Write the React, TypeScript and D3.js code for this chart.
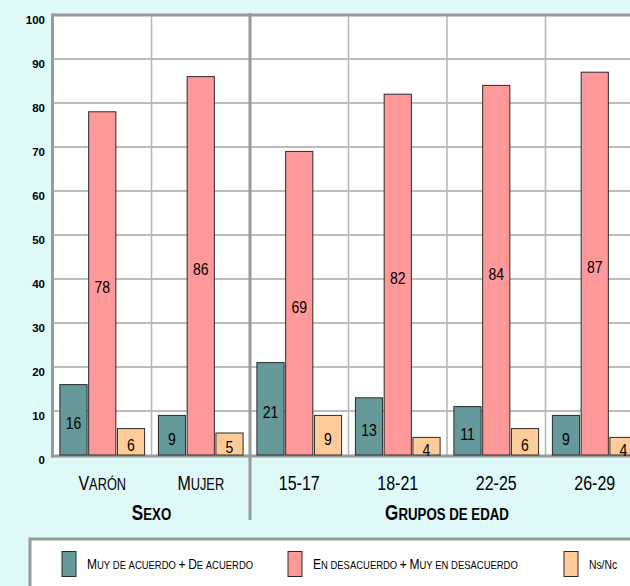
import React from "react";
import * as d3 from "d3";

const categories = ["Varón", "Mujer", "15-17", "18-21", "22-25", "26-29"];
const groups = [
  { name: "Sexo", count: 2 },
  { name: "Grupos de edad", count: 4 },
];
const seriesNames = [
  "Muy de acuerdo + De acuerdo",
  "En desacuerdo + Muy en desacuerdo",
  "Ns/Nc",
];
const acuerdo = [16, 9, 21, 13, 11, 9];
const desacuerdo = [78, 86, 69, 82, 84, 87];
const nsnc = [6, 5, 9, 4, 6, 4];
const yTicks = [0, 10, 20, 30, 40, 50, 60, 70, 80, 90, 100];

const colors = ["#669999", "#ff9999", "#ffcc99"];
const W = 630;
const H = 586;
const BG = "#dff8f8";
const GRID = "#a6a6a6";
const FRAME = "#999999";
const FONT = "'Liberation Sans', Arial, sans-serif";

// small-caps helper: first letter of capitalised words big, rest small uppercase
function SmallCaps({ text, big, small, weight }: { text: string; big: number; small: number; weight?: string }) {
  const words = text.split(" ");
  const parts: React.ReactNode[] = [];
  words.forEach((w, wi) => {
    const isUpperStart = /[A-ZÁÉÍÓÚÑ]/.test(w[0]);
    if (wi > 0) parts.push(<tspan key={"s" + wi} fontSize={small}>{" "}</tspan>);
    if (w === "+") {
      parts.push(<tspan key={"p" + wi} fontSize={big} fontWeight="normal">+</tspan>);
    } else if (isUpperStart) {
      parts.push(<tspan key={"b" + wi} fontSize={big} fontWeight={weight}>{w[0]}</tspan>);
      parts.push(<tspan key={"r" + wi} fontSize={small} fontWeight={weight}>{w.slice(1).toUpperCase()}</tspan>);
    } else {
      parts.push(<tspan key={"r" + wi} fontSize={small} fontWeight={weight}>{w.toUpperCase()}</tspan>);
    }
  });
  return <>{parts}</>;
}

export default function App() {
  const plotLeft = 53;
  const plotTop = 15;
  const plotBottom = 455;
  const catStep = 98.5;
  const plotRight = plotLeft + catStep * categories.length;

  const x = d3.scaleBand<string>().domain(categories).range([plotLeft, plotRight]).padding(0);
  const inner = d3
    .scaleBand<number>()
    .domain([0, 1, 2])
    .range([0, x.bandwidth()])
    .paddingInner(0.055)
    .paddingOuter(0.24);
  const y = d3.scaleLinear().domain([0, 100]).range([plotBottom, plotTop]);

  const series = [acuerdo, desacuerdo, nsnc];

  let acc = 0;
  const groupSpans = groups.map((g) => {
    const start = acc;
    acc += g.count;
    return { ...g, x0: x(categories[start])!, x1: x(categories[acc - 1])! + x.bandwidth() };
  });

  const isNumeric = (s: string) => /^[0-9-]+$/.test(s);

  const legendX = [62, 288, 564];

  return (
    <svg width={W} height={H} style={{ position: "absolute", left: 0, top: 0 }} fontFamily={FONT}>
      <rect x={0} y={0} width={W} height={H} fill={BG} />
      <rect x={plotLeft} y={plotTop} width={plotRight - plotLeft} height={plotBottom - plotTop} fill="#ffffff" />
      {yTicks.slice(1, -1).map((t) => (
        <line key={t} x1={plotLeft} x2={plotRight} y1={y(t)} y2={y(t)} stroke={GRID} strokeWidth={1.6} />
      ))}
      {categories.slice(1).map((c) => (
        <line key={c} x1={x(c)!} x2={x(c)!} y1={plotTop} y2={plotBottom} stroke="#b8b8b8" strokeWidth={1.6} />
      ))}
      <line x1={plotLeft - 1} x2={plotRight} y1={plotTop} y2={plotTop} stroke={FRAME} strokeWidth={3} />
      <line x1={plotLeft - 0.5} x2={plotLeft - 0.5} y1={plotTop - 1.5} y2={plotBottom + 2.5} stroke={FRAME} strokeWidth={3} />
      <line x1={plotLeft - 2} x2={plotRight} y1={plotBottom + 1} y2={plotBottom + 1} stroke={FRAME} strokeWidth={3} />
      {groupSpans.slice(1).map((g) => (
        <line key={g.name} x1={g.x0} x2={g.x0} y1={plotTop - 2} y2={520} stroke={FRAME} strokeWidth={3} />
      ))}
      {yTicks.map((t) => (
        <text key={t} x={45} y={y(t) + 9} textAnchor="end" fontSize={11.5} fontWeight="bold" fill="#000">
          {t}
        </text>
      ))}
      {categories.map((c, ci) =>
        series.map((s, si) => {
          const bx = x(c)! + inner(si)!;
          const by = y(s[ci]);
          const cx = bx + inner.bandwidth() / 2;
          return (
            <g key={c + si}>
              <rect
                x={bx}
                y={by}
                width={inner.bandwidth()}
                height={plotBottom - by}
                fill={colors[si]}
                stroke="#2a2a2a"
                strokeWidth={1}
              />
              <text
                x={0}
                y={0}
                textAnchor="middle"
                dominantBaseline="central"
                fontSize={16.5}
                fill="#000"
                transform={`translate(${cx},${y(s[ci] / 2) + 3.5}) scale(0.85,1)`}
              >
                {s[ci]}
              </text>
            </g>
          );
        })
      )}
      {categories.map((c) => {
        const cx = x(c)! + x.bandwidth() / 2;
        return (
          <text
            key={c}
            x={0}
            y={0}
            textAnchor="middle"
            fill="#000"
            fontSize={20}
            transform={`translate(${cx},490) scale(0.8,1)`}
          >
            {isNumeric(c) ? c : <SmallCaps text={c} big={20} small={16} />}
          </text>
        );
      })}
      {groupSpans.map((g) => (
        <text
          key={g.name}
          x={0}
          y={0}
          textAnchor="middle"
          fill="#000"
          fontWeight="bold"
          transform={`translate(${(g.x0 + g.x1) / 2},520) scale(0.78,1)`}
        >
          <SmallCaps text={g.name} big={22} small={17} weight="bold" />
        </text>
      ))}
      <rect x={30} y={539} width={W} height={60} fill="#ffffff" stroke={FRAME} strokeWidth={3} />
      {seriesNames.map((n, i) => (
        <g key={n}>
          <rect x={legendX[i]} y={551.5} width={14} height={25} fill={colors[i]} stroke="#2a2a2a" strokeWidth={1} />
          <text
            x={0}
            y={0}
            fill="#000"
            fontSize={12}
            transform={`translate(${legendX[i] + 25},569) scale(0.86,1)`}
          >
            {n === "Ns/Nc" ? n : <SmallCaps text={n} big={14} small={11} />}
          </text>
        </g>
      ))}
    </svg>
  );
}
